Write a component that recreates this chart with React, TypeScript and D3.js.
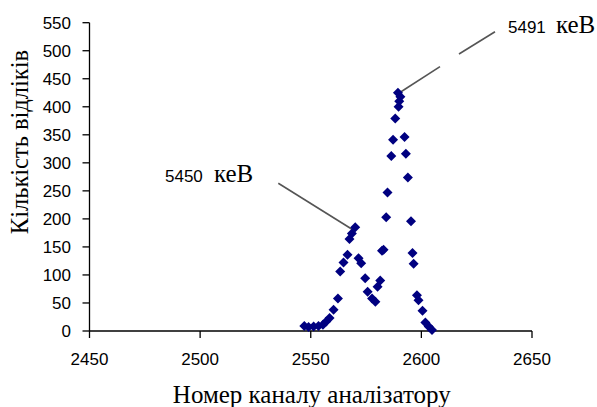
import React from "react";
import * as d3 from "d3";

const channels: number[] = [
  2547.1, 2549.0, 2551.3, 2553.5, 2555.5, 2557.0, 2558.5, 2560.3, 2562.3, 2563.3,
  2564.8, 2566.6, 2567.5, 2568.6, 2570.1, 2571.6, 2572.8, 2574.6, 2575.7, 2577.7,
  2579.2, 2580.2, 2581.4, 2582.2, 2582.9, 2584.1, 2584.7, 2586.4, 2587.2, 2588.2,
  2589.7, 2590.0, 2590.5, 2589.4, 2592.4, 2593.0, 2593.9, 2595.3, 2596.0, 2596.5,
  2598.0, 2598.7, 2600.5, 2601.8, 2603.3, 2604.8,
];
const counts: number[] = [
  9, 7, 8, 9, 11, 17, 23, 38, 58, 106,
  122, 136, 164, 174, 185, 130, 121, 94, 70, 58,
  52, 79, 90, 143, 145, 203, 247, 312, 341, 379,
  400, 410, 418, 425, 346, 316, 274, 196, 139, 120,
  64, 55, 36, 15, 8, 2,
];

const xTicks: number[] = [2450, 2500, 2550, 2600, 2650];
const yTicks: number[] = [0, 50, 100, 150, 200, 250, 300, 350, 400, 450, 500, 550];

const xTitle = "Номер каналу аналізатору";
const yTitle = "Кількість відліків";

const annotNumbers: string[] = ["5450", "5491"];
const annotUnit = "кеВ";

const W = 597;
const H = 407;

const SANS = "'Liberation Sans', Arial, sans-serif";
const SERIF = "'Liberation Serif', 'Times New Roman', serif";

export default function App() {
  const x = d3.scaleLinear().domain([2450, 2650]).range([89.5, 532]);
  const y = d3.scaleLinear().domain([0, 550]).range([331, 22.7]);
  const diamond = "M0,-5L5,0L0,5L-5,0Z";
  const x0 = x(2450);
  const y0 = y(0);

  return (
    <svg
      width={W}
      height={H}
      style={{ position: "absolute", left: 0, top: 0, background: "#fff" }}
    >
      <rect x={0} y={0} width={W} height={H} fill="#fff" />
      <line x1={x0} x2={x(2650)} y1={y0} y2={y0} stroke="#000" strokeWidth={1.3} />
      <line x1={x0} x2={x0} y1={y(550)} y2={y0} stroke="#000" strokeWidth={1.3} />
      {yTicks.map((t) => (
        <g key={"y" + t}>
          <line x1={x0 - 7} x2={x0} y1={y(t)} y2={y(t)} stroke="#000" strokeWidth={1.3} />
          <text
            x={71}
            y={y(t)}
            dy="0.36em"
            textAnchor="end"
            fontFamily={SANS}
            fontSize={17}
            fill="#000"
          >
            {t}
          </text>
        </g>
      ))}
      {xTicks.map((t) => (
        <g key={"x" + t}>
          <line x1={x(t)} x2={x(t)} y1={y0} y2={y0 + 7} stroke="#000" strokeWidth={1.3} />
          <text
            x={x(t)}
            y={365}
            textAnchor="middle"
            fontFamily={SANS}
            fontSize={17}
            fill="#000"
          >
            {t}
          </text>
        </g>
      ))}
      <text
        x={(x0 + x(2650)) / 2 + 1}
        y={403}
        textAnchor="middle"
        fontFamily={SERIF}
        fontSize={25}
        fill="#000"
      >
        {xTitle}
      </text>
      <text
        transform={`translate(28,142) rotate(-90)`}
        textAnchor="middle"
        fontFamily={SERIF}
        fontSize={24.5}
        fill="#000"
      >
        {yTitle}
      </text>
      <line x1={278.3} y1={183.3} x2={x(2570.1)} y2={y(185) + 4} stroke="#555" strokeWidth={1.6} />
      <line x1={x(2589.4)} y1={y(425) + 1} x2={440} y2={66.7} stroke="#555" strokeWidth={1.6} />
      <line x1={459} y1={54} x2={495} y2={31.7} stroke="#555" strokeWidth={1.6} />
      <text x={165} y={182} fill="#000">
        <tspan fontFamily={SANS} fontSize={17}>{annotNumbers[0]}</tspan>
        <tspan x={214} fontFamily={SERIF} fontSize={25}>{annotUnit}</tspan>
      </text>
      <text x={508} y={33} fill="#000">
        <tspan fontFamily={SANS} fontSize={17}>{annotNumbers[1]}</tspan>
        <tspan x={556} fontFamily={SERIF} fontSize={25}>{annotUnit}</tspan>
      </text>
      {channels.map((c, i) => (
        <path
          key={i}
          d={diamond}
          transform={`translate(${x(c)},${y(counts[i])})`}
          fill="#000080"
        />
      ))}
    </svg>
  );
}
